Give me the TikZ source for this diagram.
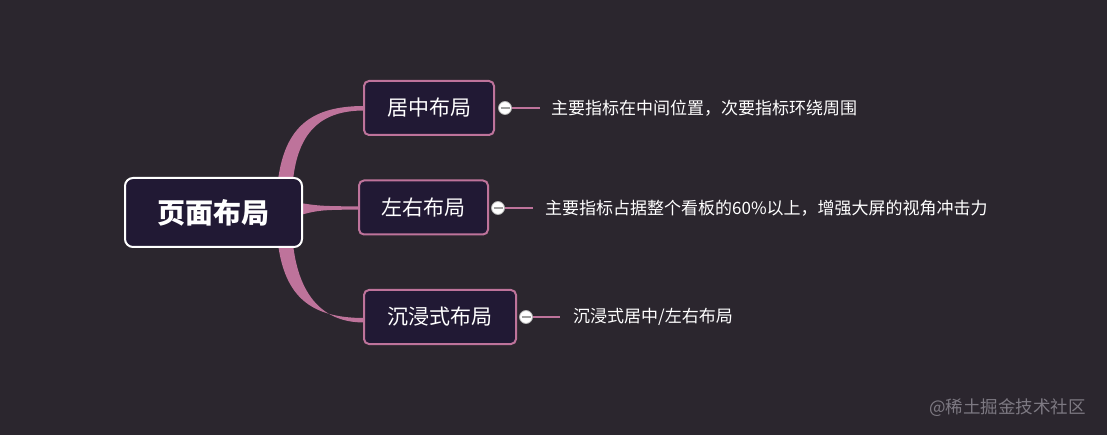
\documentclass[tikz,border=0pt]{standalone}
\usepackage{fontspec}
\setmainfont{Noto Sans CJK SC}
\definecolor{bg}{RGB}{43,38,46}
\definecolor{boxfill}{RGB}{33,25,52}
\definecolor{pinkline}{RGB}{190,115,155}
\definecolor{wm}{RGB}{125,121,130}
\tikzset{
  rootbox/.style={draw=white, line width=2pt, fill=boxfill, rounded corners=8pt, text=white, font=\bfseries\fontsize{28}{32}\selectfont, minimum width=177pt, minimum height=69pt, inner sep=0pt},
  childbox/.style={draw=pinkline, line width=2pt, fill=boxfill, rounded corners=5pt, text=white, font=\fontsize{21}{25}\selectfont, minimum height=54pt, inner sep=0pt},
  branch/.style={fill=pinkline, draw=none},
  leafline/.style={draw=pinkline, line width=2pt},
  toggle/.style={circle, draw=gray!60, line width=0.8pt, fill=white, minimum size=13pt, inner sep=0pt},
  leaf/.style={text=white, font=\fontsize{17}{20}\selectfont, anchor=west, inner sep=0pt},
}
\begin{document}
\begin{tikzpicture}[x=1pt,y=-1pt]
\fill[bg] (0,0) rectangle (1107,435);
\useasboundingbox (0,0) rectangle (1107,435);
% branches
\fill[branch] (278,180) .. controls (285,128) and (310,106) .. (364,106) -- (364,110.5) .. controls (318,110.5) and (298,135) .. (293,180) -- cycle;
\fill[branch] (278,244) .. controls (285,296) and (310,318) .. (364,318) -- (364,322.5) .. controls (318,322.5) and (298,289) .. (293,244) -- cycle;
\fill[branch] (300,203) .. controls (320,206) .. (359,206.5) -- (359,209.5) .. controls (320,210) .. (300,215) -- cycle;
% nodes
\node[rootbox] (root) at (213.5,212.5) {页面布局};
\node[childbox, minimum width=130pt] (c1) at (429,108) {居中布局};
\node[childbox, minimum width=129pt] (c2) at (423.5,207.5) {左右布局};
\node[childbox, minimum width=152pt] (c3) at (440,317) {沉浸式布局};
% toggles
\node[toggle] (t1) at (505,108) {};
\node[toggle] (t2) at (498,208) {};
\node[toggle] (t3) at (526,317) {};
\foreach \t in {t1,t2,t3}{\draw[gray!75, line width=1.3pt] ([xshift=-4.5pt]\t.center) -- ([xshift=4.5pt]\t.center);}
% leaf labels
\node[leaf] (l1) at (551,108) {主要指标在中间位置，次要指标环绕周围};
\node[leaf] (l2) at (545,208) {主要指标占据整个看板的60\%以上，增强大屏的视角冲击力};
\node[leaf] (l3) at (573,317) {沉浸式居中/左右布局};
\coordinate (e1) at (540,108);
\coordinate (e2) at (533,208);
\coordinate (e3) at (560,317);
\draw[leafline] (t1.east) -- (e1);
\draw[leafline] (t2.east) -- (e2);
\draw[leafline] (t3.east) -- (e3);
% watermark
\node[text=wm, font=\fontsize{17.5}{20}\selectfont, anchor=west, inner sep=0pt] (wmk) at (929,408) {@稀土掘金技术社区};
\end{tikzpicture}
\end{document}
